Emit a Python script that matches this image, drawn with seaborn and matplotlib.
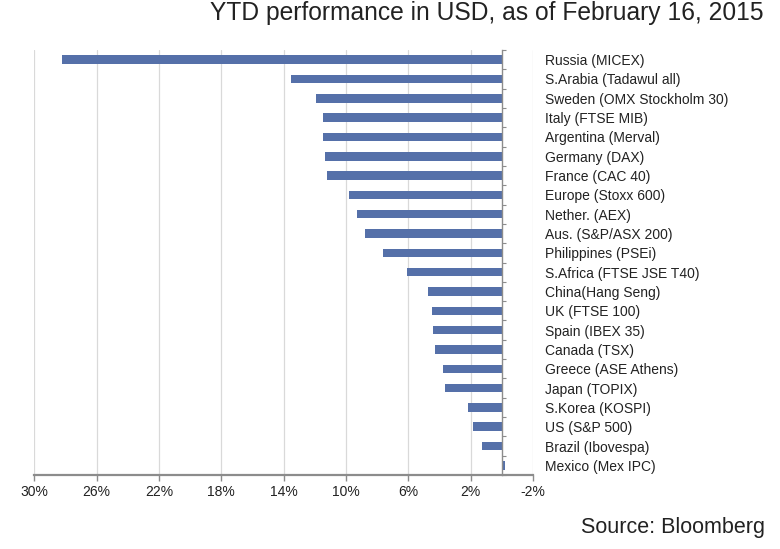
import numpy as np
import pandas as pd
import matplotlib
matplotlib.use("Agg")
import matplotlib.pyplot as plt
from matplotlib.ticker import FixedLocator, StrMethodFormatter
import seaborn as sns

markets = [
    "Russia (MICEX)", "S.Arabia (Tadawul all)", "Sweden (OMX Stockholm 30)",
    "Italy (FTSE MIB)", "Argentina (Merval)", "Germany (DAX)", "France (CAC 40)",
    "Europe (Stoxx 600)", "Nether. (AEX)", "Aus. (S&P/ASX 200)", "Philippines (PSEi)",
    "S.Africa (FTSE JSE T40)", "China(Hang Seng)", "UK (FTSE 100)", "Spain (IBEX 35)",
    "Canada (TSX)", "Greece (ASE Athens)", "Japan (TOPIX)", "S.Korea (KOSPI)",
    "US (S&P 500)", "Brazil (Ibovespa)", "Mexico (Mex IPC)",
]
ytd_pct = [
    28.2, 13.5, 11.9, 11.5, 11.45, 11.35, 11.25, 9.8, 9.3, 8.8, 7.65,
    6.1, 4.75, 4.45, 4.4, 4.3, 3.8, 3.65, 2.2, 1.85, 1.25, -0.2,
]
x_ticks = [-2, 2, 6, 10, 14, 18, 22, 26, 30]
title = "YTD performance in USD, as of February 16, 2015"
source = "Source: Bloomberg"

df = pd.DataFrame({"market": markets, "ytd": ytd_pct})

sns.set_theme(style="white")
plt.rcParams["font.family"] = ["Liberation Sans", "DejaVu Sans"]
plt.rcParams["axes.unicode_minus"] = False
txt = "#222222"

fig = plt.figure(figsize=(7.8, 5.49), dpi=100)
ax = fig.add_axes([34.3 / 780, 74 / 549, (533 - 34.3) / 780, 425 / 549])

sns.barplot(data=df, x="ytd", y="market", orient="h", color="#5570A9",
            saturation=1, width=0.44, ax=ax, zorder=3,
            edgecolor="none", linewidth=0)

ax.set_xlim(max(x_ticks), min(x_ticks))
ax.set_ylim(len(markets) - 0.5, -0.5)
ax.set_xlabel("")
ax.set_ylabel("")

# x axis
ax.xaxis.set_major_locator(FixedLocator(x_ticks))
ax.xaxis.set_major_formatter(StrMethodFormatter("{x:.0f}%"))
ax.tick_params(axis="x", which="major", direction="out", length=4.3, width=1,
               color="#8C8C8C", labelsize=10, labelcolor=txt, pad=3, bottom=True)
ax.grid(axis="x", color="#D9D9D9", linewidth=0.9, zorder=0)
ax.grid(axis="y", visible=False)

# spines
ax.spines["top"].set_visible(False)
ax.spines["right"].set_visible(False)
ax.spines["bottom"].set_color("#8C8C8C")
ax.spines["bottom"].set_linewidth(1.6)
ax.spines["left"].set_position(("data", 0))
ax.spines["left"].set_color("#8C8C8C")
ax.spines["left"].set_linewidth(1.0)
ax.spines["left"].set_zorder(4)

# y axis: labels on the right side, minor ticks between categories on zero line
ax.yaxis.set_minor_locator(FixedLocator(np.arange(-0.5, len(markets), 1.0)))
ax.tick_params(axis="y", which="major", length=0, left=False, right=False,
               labelleft=False, labelright=True, labelsize=10, labelcolor=txt, pad=8.6)
ax.tick_params(axis="y", which="minor", left=True, right=False, direction="in",
               length=3, width=0.8, color="#8C8C8C")
for lab in ax.get_yticklabels():
    lab.set_horizontalalignment("left")

fig.text(763 / 780, 1 - 20 / 549, title, ha="right", va="baseline",
         fontsize=17.7, color=txt)
fig.text(765 / 780, 1 - 533 / 549, source, ha="right", va="baseline",
         fontsize=15.5, color=txt)

fig.savefig("out.png", dpi=100)
